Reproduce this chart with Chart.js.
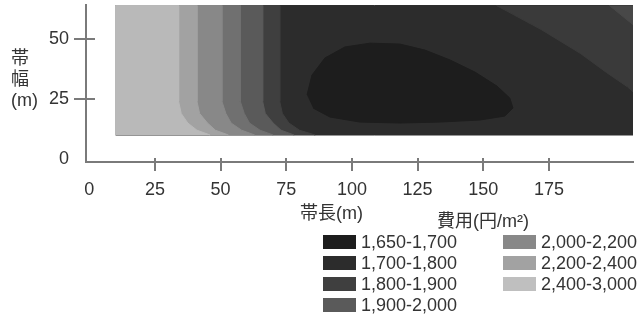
<!DOCTYPE html>
<html lang="ja">

<head>
    <meta charset="UTF-8">
    <title>帯長・帯幅と費用</title>
    <script src="https://cdn.jsdelivr.net/npm/chart.js"></script>
    <style>
        body { margin: 0; background: #fff; }
        #wrap { position: relative; width: 638px; height: 320px; font-family: "Liberation Sans", "Noto Sans CJK JP", sans-serif; color: #333; }
        .lbl { position: absolute; font-size: 18px; line-height: 21px; white-space: nowrap; }
        .sw { position: absolute; width: 33px; height: 14px; }
    </style>
</head>

<body>
    <div id="wrap">
        <canvas id="myChart" width="638" height="320"></canvas>
        <div class="lbl" style="left: 11px; top: 48px;">帯<br>幅<br>(m)</div>
        <div class="lbl" style="left: 300px; top: 203px;">帯長(m)</div>
        <div class="lbl" style="left: 437px; top: 211px;">費用(円/m²)</div>
        <div id="legend"></div>
    </div>

    <script>
        // axis ticks
        const xTicks = [0, 25, 50, 75, 100, 125, 150, 175];
        const yTicks = [0, 25, 50];

        // cost bands (legend)
        const levels = ['1,650-1,700', '1,700-1,800', '1,800-1,900', '1,900-2,000', '2,000-2,200', '2,200-2,400', '2,400-3,000'];
        const levelColors = ['#1d1d1d', '#2c2c2c', '#3f3f3f', '#5a5a5a', '#888888', '#a2a2a2', '#bfbfbf'];

        // contour regions (帯長 x, 帯幅 y), lightest on top
        const bgX = [10, 207, 207, 10];
        const bgY = [10, 10, 64, 64];

        const b6X = [10, 10, 72.5, 72.5, 73.5, 76, 80, 86];
        const b6Y = [10, 64, 64, 24, 19, 15, 12, 10];
        const b5X = [10, 10, 66, 66, 67, 70, 73, 78];
        const b5Y = [10, 64, 64, 24, 19, 15, 12, 10];
        const b4X = [10, 10, 57.5, 57.5, 59, 61, 65, 70];
        const b4Y = [10, 64, 64, 24, 19, 15, 12, 10];
        const b3X = [10, 10, 50.5, 50.5, 52, 54, 58, 63];
        const b3Y = [10, 64, 64, 24, 19, 15, 12, 10];
        const b2X = [10, 10, 41, 41, 42, 45, 48, 53];
        const b2Y = [10, 64, 64, 24, 19, 15, 12, 10];
        const b1X = [10, 10, 34, 34, 35, 37.5, 41, 46];
        const b1Y = [10, 64, 64, 24, 19, 15, 12, 10];

        const trX = [155, 172, 187, 197, 205, 207, 207];
        const trY = [64, 54, 44, 36, 30, 28, 64];
        const cornerX = [198, 207, 207];
        const cornerY = [64, 56, 64];

        const ellX = [82.9, 84.8, 89.7, 97.3, 106.9, 118.3, 127.8, 137.3, 146.8, 155.2, 160.1, 161.3, 158.2, 148.7, 133.5, 118.3, 103, 91.6, 85.2];
        const ellY = [26.7, 35, 42.1, 46.7, 48.3, 47.9, 45.4, 41.3, 36.25, 30.4, 25.4, 21.25, 17.9, 16.25, 15.4, 15, 15.4, 17.5, 21.25];

        // bottom first
        const regions = [
            { x: bgX, y: bgY, color: levelColors[1] },
            { x: b6X, y: b6Y, color: levelColors[2] },
            { x: b5X, y: b5Y, color: levelColors[3] },
            { x: b4X, y: b4Y, color: '#707070' },
            { x: b3X, y: b3Y, color: levelColors[4] },
            { x: b2X, y: b2Y, color: levelColors[5] },
            { x: b1X, y: b1Y, color: '#b9b9b9' },
            { x: trX, y: trY, color: '#3a3a3a' },
            { x: cornerX, y: cornerY, color: '#484848' },
            { x: ellX, y: ellY, color: levelColors[0] },
        ];

        // chart.js draws dataset 0 on top, so reverse
        const datasets = regions.map((r) => ({
            data: r.x.map((v, i) => ({ x: v, y: r.y[i] })),
            backgroundColor: r.color,
            borderColor: r.color,
            borderWidth: 1,
            pointRadius: 0,
            tension: 0,
            fill: 'shape'
        })).reverse();

        const tickMarks = {
            id: 'tick_marks',
            afterDraw: (chart) => {
                const ctx = chart.ctx;
                const xs = chart.scales.x;
                const ys = chart.scales.y;
                ctx.save();
                ctx.strokeStyle = '#7a7a7a';
                ctx.lineWidth = 2;
                ctx.beginPath();
                xTicks.forEach((v) => {
                    if (v === 0) return;
                    const px = Math.round(xs.getPixelForValue(v));
                    ctx.moveTo(px, ys.bottom - 4);
                    ctx.lineTo(px, ys.bottom + 9);
                });
                yTicks.forEach((v) => {
                    if (v === 0) return;
                    const py = Math.round(ys.getPixelForValue(v));
                    ctx.moveTo(xs.left - 12, py);
                    ctx.lineTo(xs.left + 9, py);
                });
                ctx.stroke();
                ctx.restore();
            }
        };

        const tickFont = { family: '"Liberation Sans", Arial, sans-serif', size: 18 };

        const config = {
            type: 'line',
            data: { datasets: datasets },
            options: {
                responsive: false,
                animation: false,
                layout: { padding: { top: 5, right: 5, left: 0, bottom: 0 } },
                plugins: { legend: { display: false }, tooltip: { enabled: false } },
                scales: {
                    x: {
                        type: 'linear',
                        min: -1.25,
                        max: 207,
                        grid: { display: false, drawTicks: false },
                        border: { display: true, color: '#7a7a7a', width: 2 },
                        ticks: { color: '#333', font: tickFont, padding: 17, maxRotation: 0 },
                        afterBuildTicks: (s) => { s.ticks = xTicks.map((v) => ({ value: v })); },
                        afterFit: (s) => {
                            s.height = 158;
                            s.paddingLeft = 0; s.paddingRight = 0; s.paddingTop = 0; s.paddingBottom = 0;
                        }
                    },
                    y: {
                        type: 'linear',
                        min: -1.25,
                        max: 64.2,
                        grid: { display: false, drawTicks: false },
                        border: { display: true, color: '#7a7a7a', width: 2 },
                        ticks: { color: '#333', font: tickFont, padding: 17 },
                        afterBuildTicks: (s) => { s.ticks = yTicks.map((v) => ({ value: v })); },
                        afterFit: (s) => {
                            s.width = 86;
                            s.paddingLeft = 0; s.paddingRight = 0; s.paddingTop = 0; s.paddingBottom = 0;
                        }
                    }
                }
            },
            plugins: [tickMarks]
        };

        var chart = new Chart(
            document.getElementById('myChart'),
            config
        );

        // legend: two columns, 4 + 3
        const legend = document.getElementById('legend');
        levels.forEach((name, i) => {
            const col = i < 4 ? 0 : 1;
            const row = i < 4 ? i : i - 4;
            const left = col === 0 ? 323 : 503;
            const top = 235 + row * 21;
            legend.innerHTML +=
                '<div class="sw" style="left:' + left + 'px; top:' + top + 'px; background:' + levelColors[i] + ';"></div>' +
                '<div class="lbl" style="left:' + (left + 38) + 'px; top:' + (top - 3) + 'px;">' + name + '</div>';
        });
    </script>
</body>

</html>
